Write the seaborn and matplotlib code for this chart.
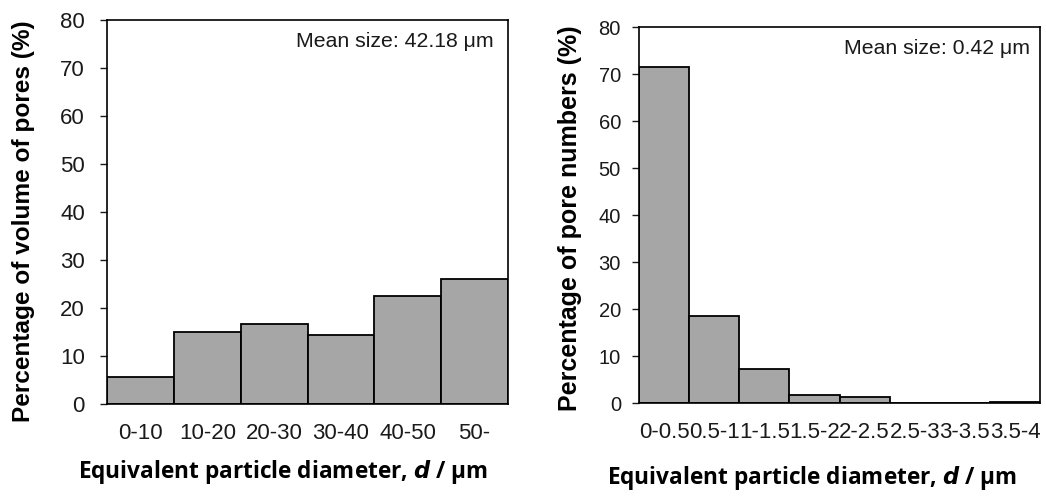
import numpy as np
import pandas as pd
import seaborn as sns
import matplotlib.pyplot as plt

sns.set_style("white")
plt.rcParams["font.family"] = ["Liberation Sans", "DejaVu Sans"]

# Data
vol_bins = ["0-10", "10-20", "20-30", "30-40", "40-50", "50-"]
vol_pct = [5.7, 14.9, 16.7, 14.3, 22.5, 26.1]

num_bins = ["0-0.5", "0.5-1", "1-1.5", "1.5-2", "2-2.5", "2.5-3", "3-3.5", "3.5-4"]
num_pct = [71.4, 18.5, 7.2, 1.6, 1.3, 0.0, 0.0, 0.3]

fig = plt.figure(figsize=(10.46, 4.97), dpi=100)
ax1 = fig.add_axes([0.1023, 0.1871, 0.3834, 0.7727])
ax2 = fig.add_axes([0.6109, 0.1891, 0.3834, 0.7565])

xlabel_kw = dict(fontsize=16.3, fontweight="bold", color="black",
                 family=["Open Sans", "DejaVu Sans"])


def draw(ax, bins, vals, ylabel, note, yfs, xfs, ylab_fs, ylab_xy, note_x, ypad):
    df = pd.DataFrame({"bin": bins, "pct": vals})
    sns.barplot(data=df, x="bin", y="pct", ax=ax, color="#a6a6a6", saturation=1,
                width=1.0, edgecolor="black", linewidth=1.3)
    ax.set_xlim(-0.5, len(bins) - 0.5)
    ax.set_ylim(0, 80)
    ax.set_yticks(np.arange(0, 81, 10))
    ax.tick_params(axis="y", direction="out", length=5, width=1, labelsize=yfs,
                   left=True, pad=ypad, colors="#1a1a1a")
    ax.tick_params(axis="x", length=0, labelsize=xfs, pad=14, colors="#1a1a1a")
    for s in ax.spines.values():
        s.set_visible(True)
        s.set_color("black")
        s.set_linewidth(1.2)
    ax.set_ylabel(ylabel, fontsize=ylab_fs, fontweight="bold", color="black")
    ax.yaxis.set_label_coords(*ylab_xy)
    ax.set_xlabel("")
    ax.text(note_x, 0.943, note, transform=ax.transAxes, ha="right", va="center",
            fontsize=15.3, color="#1a1a1a")


draw(ax1, vol_bins, vol_pct, "Percentage of volume of pores (%)", "Mean size: 42.18 μm",
     16, 16, 17.6, (-0.18, 0.477), 0.963, 11)
draw(ax2, num_bins, num_pct, "Percentage of pore numbers (%)", "Mean size: 0.42 μm",
     14.5, 16, 18, (-0.142, 0.492), 0.975, 8)

fig.text(0.270, 1 - 472 / 497, r"Equivalent particle diameter, $\bfit{d}$ / μm", ha="center",
         va="center", **xlabel_kw)
fig.text(0.776, 1 - 478 / 497, r"Equivalent particle diameter, $\bfit{d}$ / μm", ha="center",
         va="center", **xlabel_kw)

fig.savefig("out.png", dpi=100)
